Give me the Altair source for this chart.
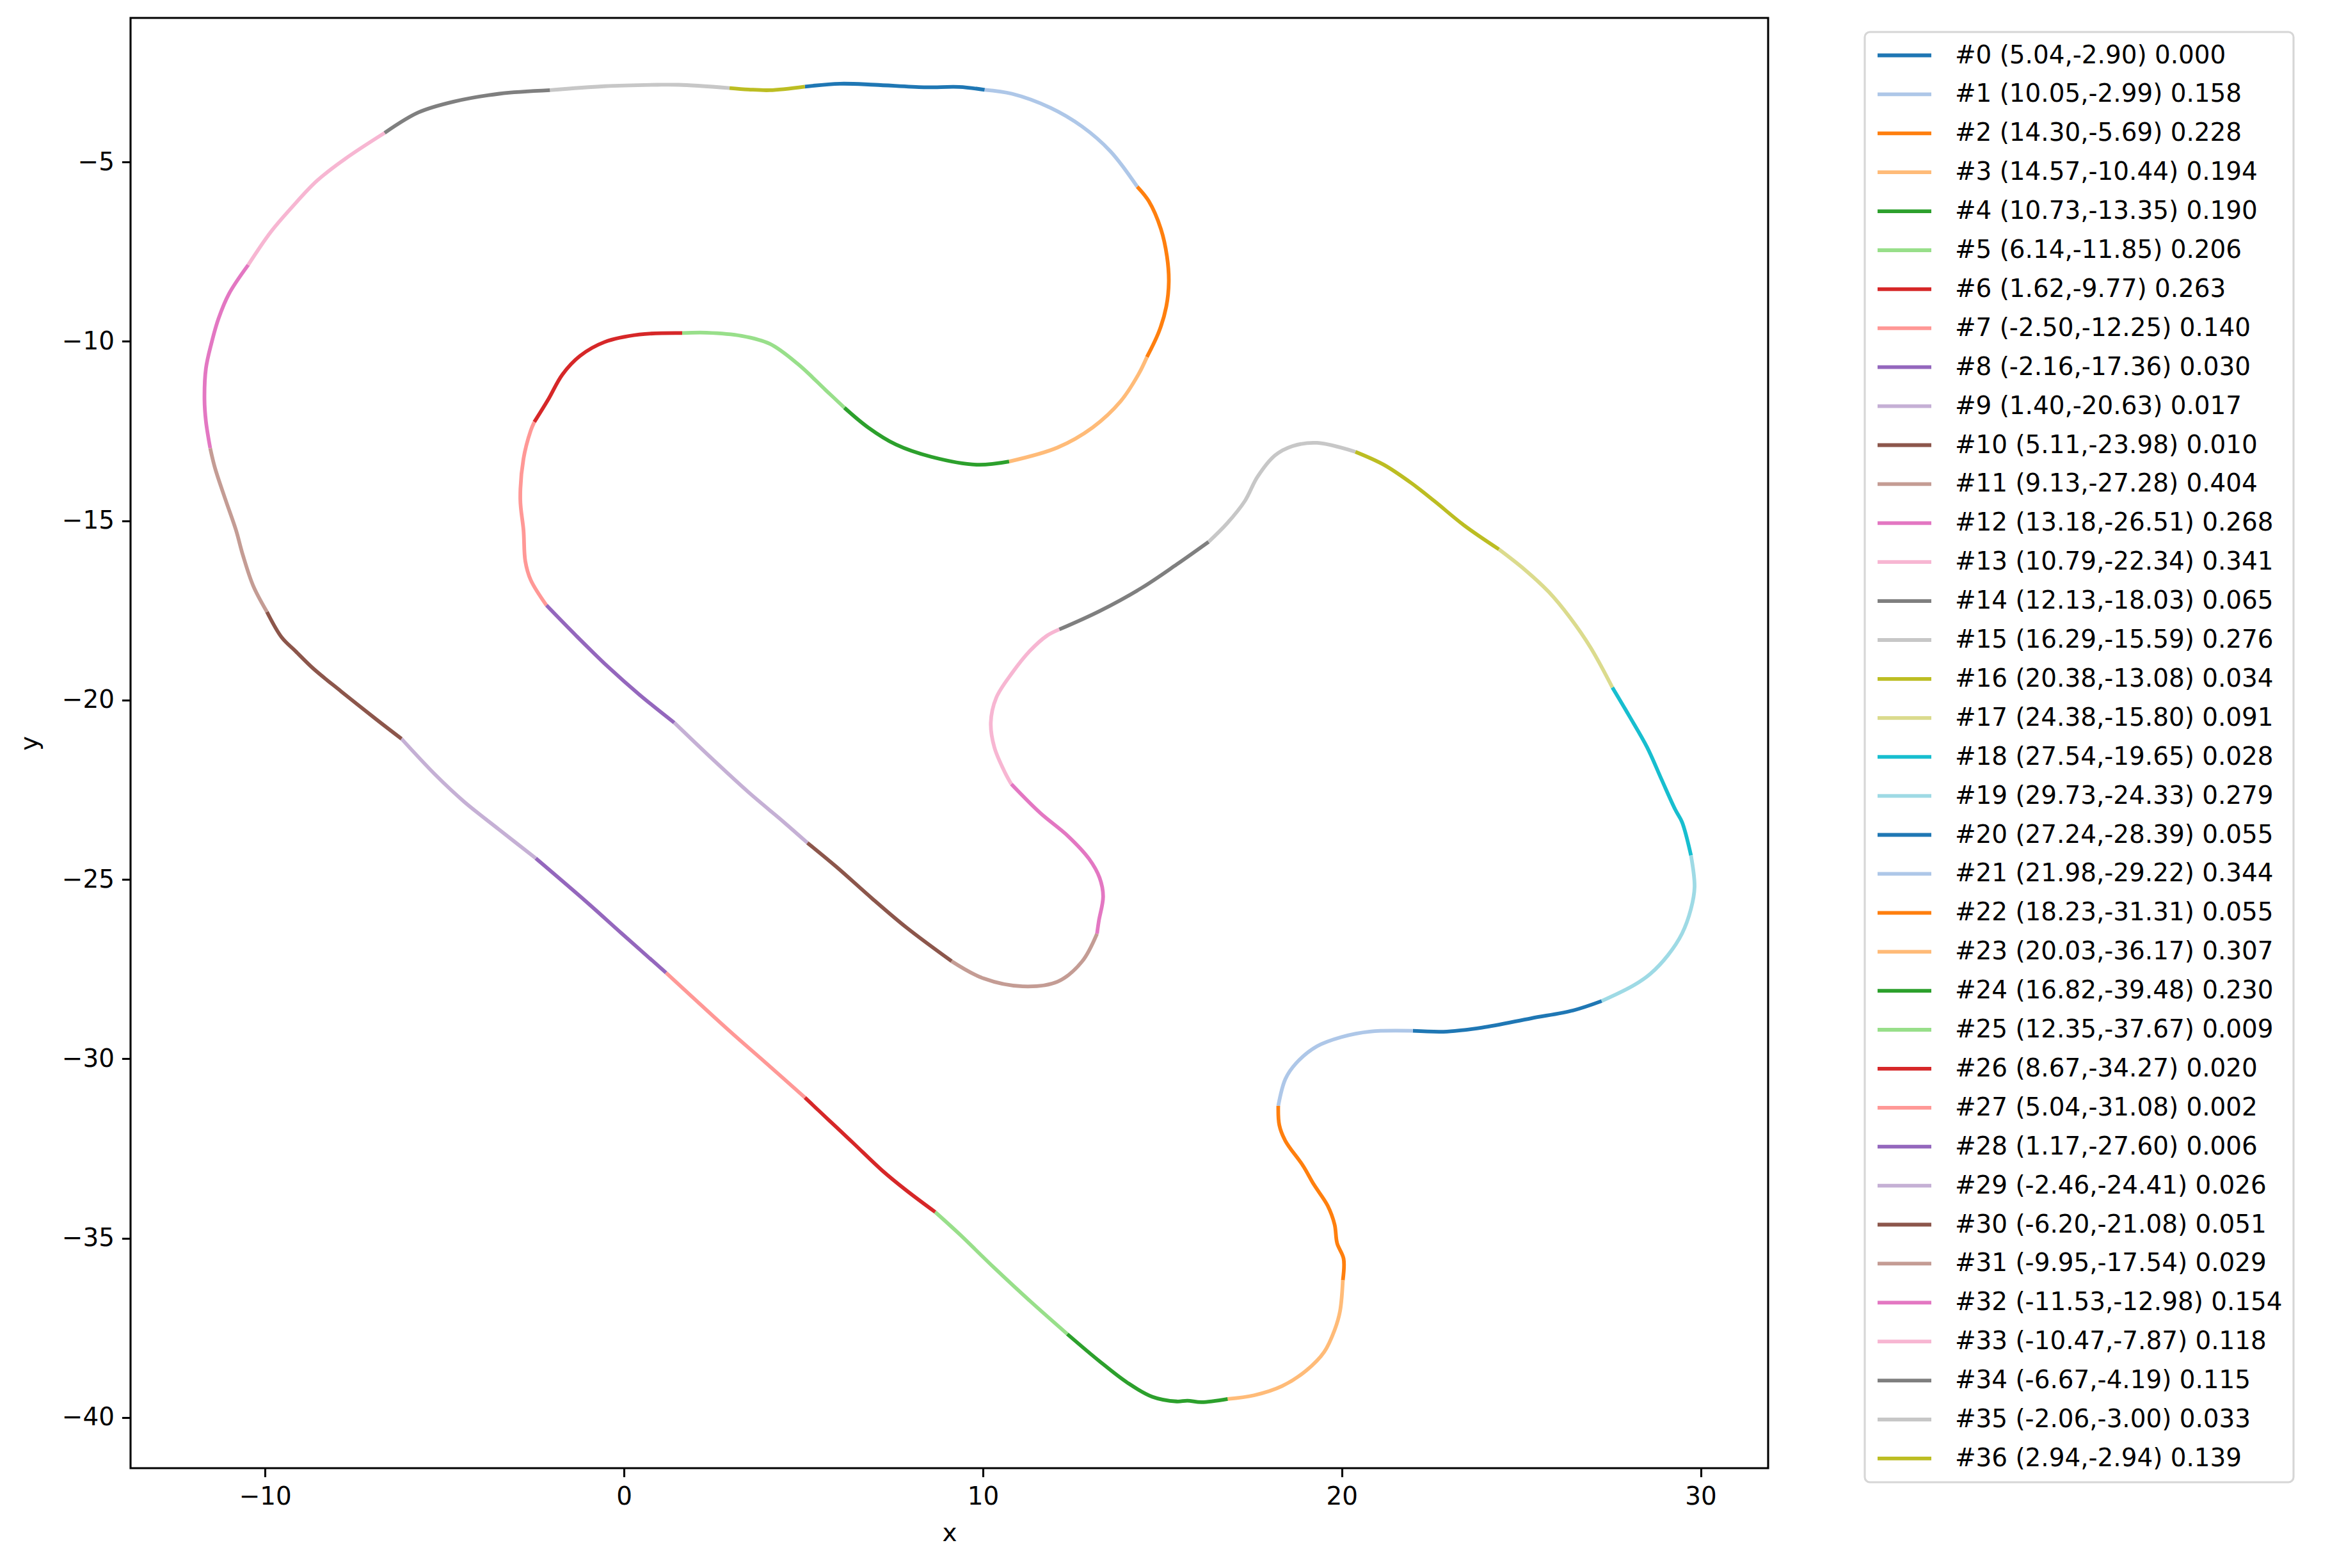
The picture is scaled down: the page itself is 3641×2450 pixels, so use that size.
import altair as alt
import pandas as pd

# Segment start points (from legend) and per-segment value
start_x = [5.04, 10.05, 14.30, 14.57, 10.73, 6.14, 1.62, -2.50, -2.16, 1.40, 5.11, 9.13,
           13.18, 10.79, 12.13, 16.29, 20.38, 24.38, 27.54, 29.73, 27.24, 21.98, 18.23,
           20.03, 16.82, 12.35, 8.67, 5.04, 1.17, -2.46, -6.20, -9.95, -11.53, -10.47,
           -6.67, -2.06, 2.94]
start_y = [-2.90, -2.99, -5.69, -10.44, -13.35, -11.85, -9.77, -12.25, -17.36, -20.63,
           -23.98, -27.28, -26.51, -22.34, -18.03, -15.59, -13.08, -15.80, -19.65, -24.33,
           -28.39, -29.22, -31.31, -36.17, -39.48, -37.67, -34.27, -31.08, -27.60, -24.41,
           -21.08, -17.54, -12.98, -7.87, -4.19, -3.00, -2.94]
seg_value = [0.000, 0.158, 0.228, 0.194, 0.190, 0.206, 0.263, 0.140, 0.030, 0.017, 0.010,
             0.404, 0.268, 0.341, 0.065, 0.276, 0.034, 0.091, 0.028, 0.279, 0.055, 0.344,
             0.055, 0.307, 0.230, 0.009, 0.020, 0.002, 0.006, 0.026, 0.051, 0.029, 0.154,
             0.118, 0.115, 0.033, 0.139]

# Intermediate points along each segment
mid_pts = [
    [(6.02, -2.82), (6.99, -2.85), (8.36, -2.92), (9.34, -2.91)],
    [(10.81, -3.10), (11.88, -3.49), (12.76, -4.01), (13.55, -4.70)],
    [(14.62, -6.09), (14.96, -6.87), (15.13, -7.64), (15.18, -8.34), (15.11, -9.03), (14.91, -9.72)],
    [(14.33, -10.93), (13.84, -11.67), (13.06, -12.40), (12.08, -12.96)],
    [(9.83, -13.44), (8.56, -13.22), (7.58, -12.88), (6.80, -12.40)],
    [(5.62, -11.36), (4.84, -10.63), (4.06, -10.07), (3.28, -9.85), (2.30, -9.76)],
    [(0.43, -9.81), (-0.54, -10.02), (-1.23, -10.41), (-1.72, -10.93), (-2.11, -11.62)],
    [(-2.60, -12.49), (-2.80, -13.27), (-2.89, -14.40), (-2.80, -15.27), (-2.75, -16.13), (-2.60, -16.65)],
    [(-1.33, -18.21), (-0.45, -19.07), (0.43, -19.85)],
    [(2.49, -21.67), (3.47, -22.57), (4.45, -23.40)],
    [(5.92, -24.65), (6.89, -25.51), (7.87, -26.34)],
    [(10.02, -27.76), (11.10, -27.98), (12.08, -27.85), (12.76, -27.29)],
    [(13.23, -26.16), (13.35, -25.47), (13.25, -24.95), (12.96, -24.43), (12.37, -23.79), (11.59, -23.14)],
    [(10.61, -22.01), (10.32, -21.32), (10.22, -20.63), (10.37, -19.94), (10.81, -19.25), (11.30, -18.64), (11.78, -18.21)],
    [(13.25, -17.52), (14.43, -16.87), (15.40, -16.22)],
    [(16.80, -15.08), (17.30, -14.45), (17.65, -13.78), (18.14, -13.18), (18.63, -12.92), (19.31, -12.83)],
    [(21.17, -13.44), (21.95, -13.96), (22.60, -14.47), (23.42, -15.14)],
    [(25.08, -16.35), (25.77, -16.99), (26.35, -17.69), (26.94, -18.55)],
    [(28.02, -20.46), (28.51, -21.32), (28.90, -22.19), (29.29, -23.05), (29.48, -23.40)],
    [(29.83, -25.21), (29.73, -25.82), (29.48, -26.51), (29.09, -27.11), (28.60, -27.63), (28.12, -27.96)],
    [(26.45, -28.65), (25.28, -28.87), (23.91, -29.13), (22.93, -29.24)],
    [(20.78, -29.24), (20.00, -29.39), (19.31, -29.65), (18.73, -30.12), (18.43, -30.56)],
    [(18.26, -31.85), (18.43, -32.29), (18.92, -32.98), (19.22, -33.50), (19.61, -34.10), (19.80, -34.62), (19.87, -35.14), (20.05, -35.57)],
    [(19.95, -37.04), (19.80, -37.56), (19.51, -38.17), (19.02, -38.68), (18.34, -39.12), (17.55, -39.38)],
    [(16.09, -39.57), (15.70, -39.53), (15.40, -39.55), (14.72, -39.42), (14.03, -39.03), (13.25, -38.43)],
    [(11.30, -36.74), (10.32, -35.83), (9.34, -34.88)],
    [(7.87, -33.67), (7.19, -33.11), (6.41, -32.37), (5.72, -31.72)],
    [(3.96, -30.12), (2.98, -29.26)],
    [(-0.06, -26.51), (-1.03, -25.64)],
    [(-3.48, -23.61), (-4.46, -22.83), (-5.24, -22.10)],
    [(-6.90, -20.54), (-7.88, -19.76), (-8.66, -19.12), (-9.15, -18.64), (-9.54, -18.25)],
    [(-10.33, -16.82), (-10.62, -15.96), (-10.81, -15.27), (-11.11, -14.40), (-11.40, -13.52)],
    [(-11.65, -12.23), (-11.69, -11.62), (-11.65, -10.76), (-11.50, -10.07), (-11.30, -9.37), (-11.01, -8.68)],
    [(-9.84, -6.95), (-9.25, -6.26), (-8.56, -5.53), (-7.78, -4.92)],
    [(-5.73, -3.62), (-4.75, -3.32), (-3.48, -3.10)],
    [(-0.55, -2.89), (0.92, -2.85), (1.52, -2.85)],
    [(3.47, -2.98), (4.06, -3.00)],
]

tab20 = ["#1f77b4", "#aec7e8", "#ff7f0e", "#ffbb78", "#2ca02c", "#98df8a", "#d62728",
         "#ff9896", "#9467bd", "#c5b0d5", "#8c564b", "#c49c94", "#e377c2", "#f7b6d2",
         "#7f7f7f", "#c7c7c7", "#bcbd22", "#dbdb8d", "#17becf", "#9edae5"]

x_ticks = [-10, 0, 10, 20, 30]
y_ticks = [-40, -35, -30, -25, -20, -15, -10, -5]

n = len(start_x)
labels = [f"#{i} ({start_x[i]:.2f},{start_y[i]:.2f}) {seg_value[i]:.3f}" for i in range(n)]
colors = [tab20[i % 20] for i in range(n)]

rows = []
for i in range(n):
    j = (i + 1) % n
    pts = [(start_x[i], start_y[i])] + mid_pts[i] + [(start_x[j], start_y[j])]
    for k, (px, py) in enumerate(pts):
        rows.append({"seg": i, "idx": k, "x": px, "y": py, "label": labels[i]})
df = pd.DataFrame(rows)

FS = 38.9
FONT = "DejaVu Sans"

chart = alt.Chart(df).mark_line(
    strokeWidth=5.8, interpolate="catmull-rom", strokeCap="butt"
).encode(
    x=alt.X("x:Q", scale=alt.Scale(domain=[-13.75, 31.88], nice=False, zero=False),
            axis=alt.Axis(values=x_ticks, title="x", format="d")),
    y=alt.Y("y:Q", scale=alt.Scale(domain=[-41.41, -0.986], nice=False, zero=False),
            axis=alt.Axis(values=y_ticks, title="y", format="d")),
    color=alt.Color("label:N", title=None,
                    scale=alt.Scale(domain=labels, range=colors),
                    legend=alt.Legend(orient="none", legendX=2710, legendY=22,
                                      symbolType="stroke", symbolStrokeWidth=5.8,
                                      symbolSize=7056, rowPadding=20.9, clipHeight=39,
                                      labelOffset=34, symbolLimit=100,
                                      labelLimit=2000, padding=17, columns=1,
                                      strokeColor="#d6d6d6", fillColor="white",
                                      cornerRadius=8)),
    detail="seg:N",
    order=alt.Order("idx:Q"),
).properties(
    width=2559, height=2266,
    autosize=alt.AutoSizeParams(type="none"),
    padding={"left": 196, "top": 20, "right": 866, "bottom": 140},
).configure_view(
    stroke="black", strokeWidth=3.1
).configure_axis(
    domain=False, grid=False, tickColor="black", tickSize=13.6, tickWidth=3.1,
    labelFont=FONT, labelFontSize=FS, labelColor="black", labelPadding=12,
    titleFont=FONT, titleFontSize=FS, titleFontWeight="normal", titleColor="black",
).configure_axisX(
    titlePadding=18
).configure_axisY(
    titlePadding=30
).configure_legend(
    labelFont=FONT, labelFontSize=FS, labelColor="black", strokeWidth=3.1
)

chart.save("out.html", embed_options={"renderer": "svg", "actions": False})
